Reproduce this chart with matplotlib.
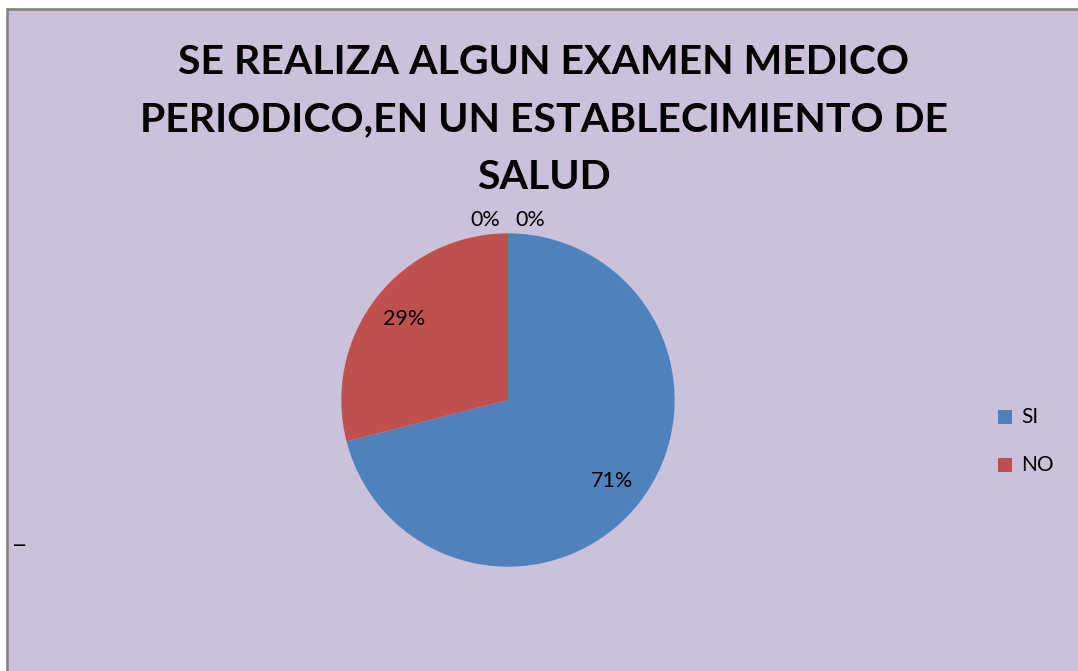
import matplotlib
matplotlib.use("Agg")
import matplotlib.pyplot as plt
from matplotlib.patches import Rectangle
import numpy as np

# chart data
categories = ["SI", "NO", "", ""]
values = [71, 29, 0, 0]
colors = ["#4F81BD", "#C0504D", "#9BBB59", "#8064A2"]
title = "SE REALIZA ALGUN EXAMEN MEDICO\nPERIODICO,EN UN ESTABLECIMIENTO DE\nSALUD"

W, H = 1078, 671
plt.rcParams['font.family'] = ['Lato', 'DejaVu Sans']

fig = plt.figure(figsize=(W / 100, H / 100), dpi=100)
fig.patch.set_facecolor("white")

# chart area background with border
bg = Rectangle((7 / W, -0.05), 1.1, (H - 9) / H + 0.05, transform=fig.transFigure,
               facecolor="#CCC1DA", edgecolor="#878787", linewidth=2, zorder=-1)
fig.patches.append(bg)

fig.text(544 / W, 1 - 120 / H, title, ha="center", va="center", fontsize=29.5,
         fontweight="bold", linespacing=1.68, color="black")

# pie axes: center (508, 400) px, radius ~167 px
cx, cy, half = 508, 400, 200
ax = fig.add_axes([(cx - half) / W, (H - cy - half) / H, 2 * half / W, 2 * half / H])
ax.set_zorder(2)

wedges, _ = ax.pie(values, colors=colors, startangle=90, counterclock=False,
                   radius=1.0, wedgeprops=dict(linewidth=0))
ax.set_xlim(-1.2, 1.2)
ax.set_ylim(-1.2, 1.2)
ax.axis("off")

total = sum(values)
start = 90.0
zero_offsets = [-0.135, 0.135]
zi = 0
for v in values:
    sweep = 360.0 * v / total
    mid = np.deg2rad(start - sweep / 2)
    pct = f"{round(100 * v / total)}%"
    if v > 0:
        ax.text(0.79 * np.cos(mid), 0.79 * np.sin(mid), pct, ha="center", va="center",
                fontsize=15.5)
    else:
        ax.text(1.08 * np.cos(mid) + zero_offsets[zi], 1.08 * np.sin(mid), pct,
                ha="center", va="center", fontsize=15.5)
        zi += 1
    start -= sweep

# legend
for i, name in enumerate(categories[:2]):
    y = 417 + i * 48
    fig.patches.append(Rectangle((998 / W, 1 - (y + 7) / H), 14 / W, 14 / H,
                                 transform=fig.transFigure, facecolor=colors[i],
                                 edgecolor="none"))
    fig.text(1021 / W, 1 - y / H, name, ha="left", va="center", fontsize=15)

# stray dash on the left
fig.text(20 / W, 1 - 545 / H, "—", ha="center", va="center", fontsize=12,
         fontweight="bold")

fig.savefig("out.png", dpi=100, facecolor=fig.get_facecolor())
